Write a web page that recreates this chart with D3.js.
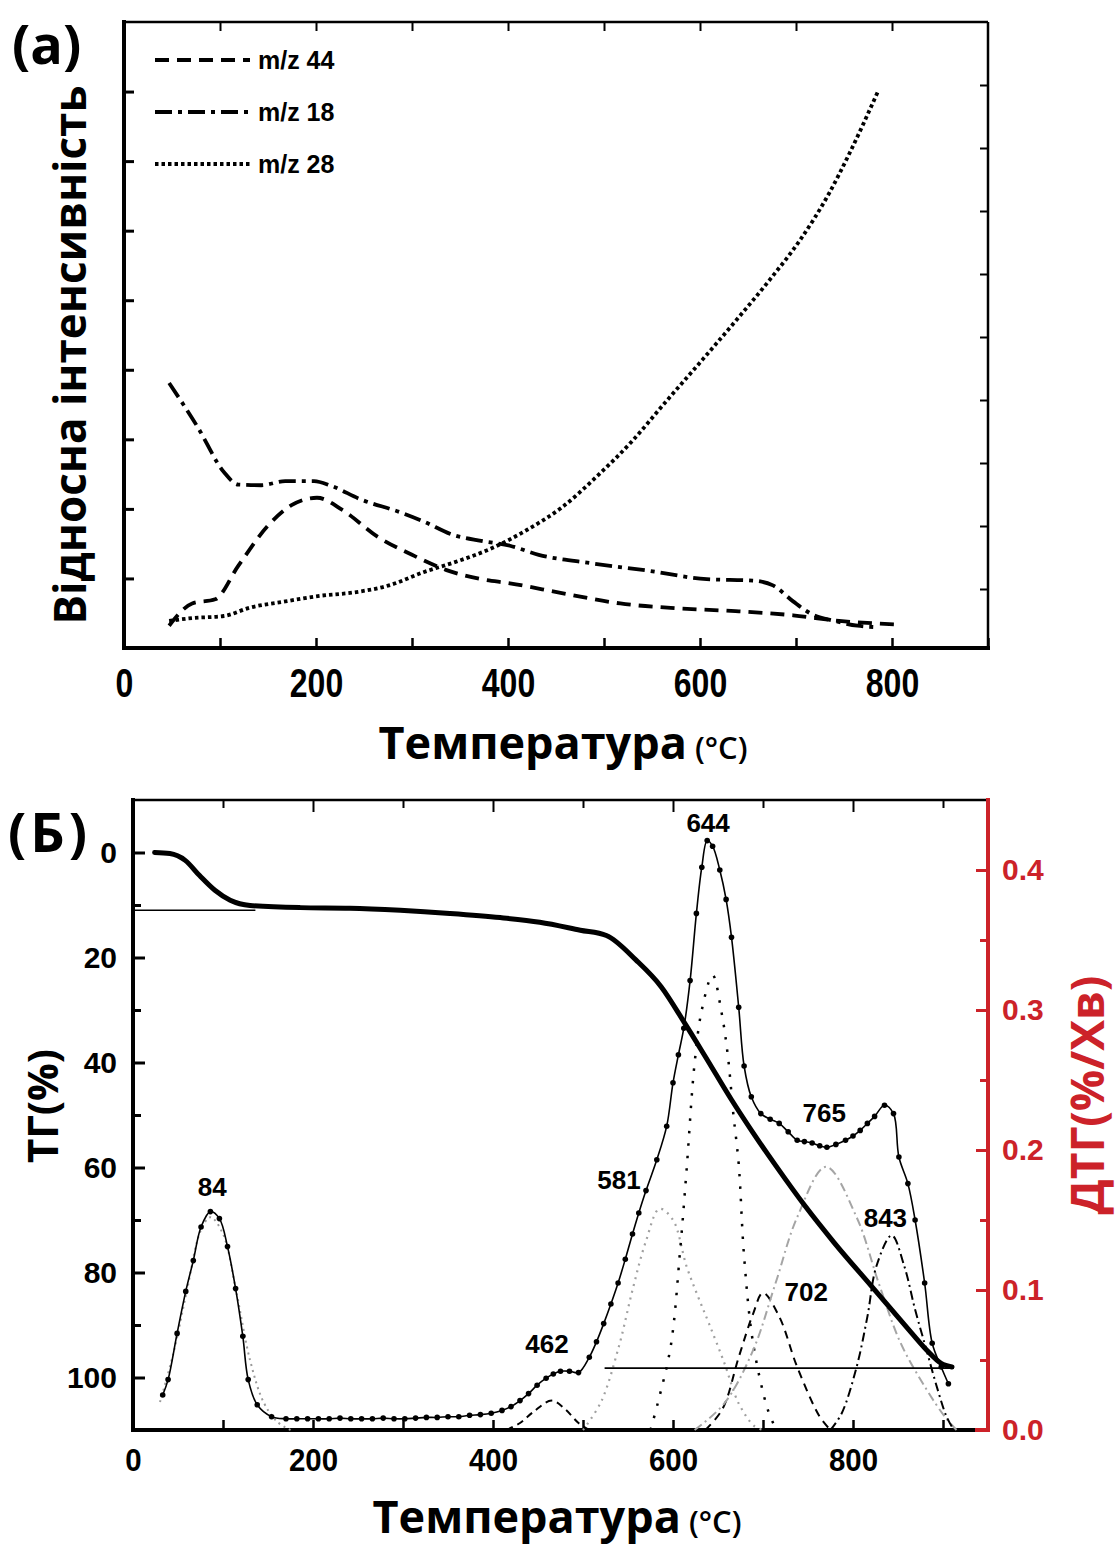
<!DOCTYPE html>
<html>
<head>
<meta charset="utf-8">
<script src="https://cdn.jsdelivr.net/npm/d3@7"></script>
<style>
  body { margin: 0; background: #fff; }
  svg { display: block; }
</style>
</head>
<body>
<svg id="chart" width="1117" height="1546"></svg>
<script>
/* panel (a): mass-spec traces */
const msTemp44 = [47, 71, 95, 119, 150, 174, 201, 228, 264, 300, 336, 372, 402, 456, 517, 577, 637, 697, 745, 803]
const ms44 = [0.32, 0.64, 0.70, 1.18, 1.76, 2.05, 2.16, 1.98, 1.60, 1.34, 1.12, 0.99, 0.93, 0.79, 0.64, 0.57, 0.53, 0.47, 0.39, 0.34]

const msTemp18 = [47, 77, 104, 119, 143, 168, 198, 216, 246, 288, 312, 342, 372, 402, 432, 486, 547, 607, 655, 676, 697, 716, 740, 764, 784]
const ms18 = [3.81, 3.17, 2.53, 2.35, 2.34, 2.40, 2.40, 2.33, 2.14, 1.95, 1.82, 1.63, 1.54, 1.47, 1.34, 1.22, 1.11, 0.99, 0.97, 0.90, 0.67, 0.49, 0.39, 0.32, 0.30]

const msTemp28 = [47, 71, 104, 131, 168, 204, 240, 276, 312, 348, 384, 420, 456, 492, 529, 565, 601, 637, 673, 704, 735, 756, 785]
const ms28 = [0.39, 0.43, 0.46, 0.58, 0.67, 0.75, 0.80, 0.90, 1.09, 1.25, 1.44, 1.70, 2.02, 2.46, 2.97, 3.55, 4.12, 4.70, 5.30, 5.86, 6.55, 7.12, 7.99]

const legendLabels = ["m/z 44", "m/z 18", "m/z 28"]
const xTicksA = [0, 100, 200, 300, 400, 500, 600, 700, 800, 900]

/* panel (Б): TG / DTG */
const tgTemp = [24, 41, 58, 74, 91, 108, 130, 186, 241, 297, 352, 408, 452, 497, 526, 559, 587, 613, 636, 665, 689, 714, 747, 779, 820, 845, 865, 882, 898, 910]
const tgVal = [0, 0.2, 1.5, 4.4, 7.2, 9.1, 10.1, 10.5, 10.6, 11, 11.6, 12.4, 13.3, 14.8, 15.8, 20.5, 25.6, 32.5, 38.9, 47.1, 53.4, 59.6, 67.4, 74.3, 82.5, 87.5, 91.5, 94.8, 97.3, 98]

const dtgTemp = [33, 39, 49, 58.6, 67, 75.6, 86, 96, 105, 114, 122, 128, 138, 154, 170, 182, 194, 206, 218, 230, 242, 254, 266, 278, 290, 302, 314, 326, 338, 350, 362, 374, 386, 398, 410, 420, 430, 439.5, 449, 459, 467, 475, 485, 495, 507, 515, 523, 531, 539, 547, 555, 562, 570, 582, 593, 600, 606, 612, 619, 626, 632, 638, 644, 652, 659, 665, 673, 679, 687, 697.6, 708, 718, 728, 738, 746, 754.6, 763, 771, 781, 791.7, 800, 808, 816, 824, 835, 845, 851, 861, 869, 879.6, 888, 898, 906]
const dtgVal = [0.025, 0.036, 0.069, 0.099, 0.121, 0.145, 0.156, 0.151, 0.131, 0.101, 0.067, 0.036, 0.018, 0.0095, 0.008, 0.008, 0.008, 0.008, 0.008, 0.0085, 0.008, 0.008, 0.008, 0.0085, 0.008, 0.008, 0.0085, 0.009, 0.009, 0.0095, 0.0095, 0.0105, 0.011, 0.012, 0.014, 0.0167, 0.021, 0.026, 0.032, 0.037, 0.040, 0.042, 0.042, 0.041, 0.052, 0.063, 0.076, 0.090, 0.105, 0.122, 0.140, 0.155, 0.171, 0.193, 0.217, 0.248, 0.268, 0.287, 0.321, 0.369, 0.402, 0.421, 0.417, 0.400, 0.379, 0.352, 0.302, 0.260, 0.238, 0.226, 0.222, 0.219, 0.213, 0.207, 0.206, 0.205, 0.203, 0.202, 0.204, 0.207, 0.210, 0.214, 0.219, 0.224, 0.232, 0.226, 0.195, 0.176, 0.150, 0.105, 0.062, 0.045, 0.033]

// fitted components [temperature, dtg]
const fit84 = [[30, 0.02], [45, 0.055], [60, 0.1], [75, 0.142], [86, 0.152], [100, 0.14], [115, 0.098], [130, 0.05], [145, 0.02], [160, 0.006], [175, 0]]
const fit462 = [[415, 0], [430, 0.005], [445, 0.013], [465, 0.021], [480, 0.015], [495, 0.005], [507, 0]]
const fit581 = [[500, 0], [520, 0.02], [540, 0.06], [555, 0.1], [570, 0.135], [585, 0.158], [600, 0.15], [615, 0.117], [628, 0.095], [640, 0.076], [657, 0.048], [673, 0.019], [690, 0.003], [700, 0]]
const fit644 = [[575, 0], [583, 0.019], [597.5, 0.06], [608, 0.129], [615, 0.185], [624, 0.262], [632, 0.30], [644, 0.325], [654, 0.298], [661, 0.267], [667, 0.226], [673, 0.19], [679, 0.124], [689, 0.062], [705.6, 0.014], [715, 0]]
const fit702 = [[636, 0], [655, 0.015], [673, 0.052], [689, 0.083], [700, 0.098], [718, 0.081], [738, 0.045], [763, 0.0095], [775, 0]]
const fit765 = [[624, 0], [657, 0.019], [689, 0.057], [714, 0.105], [738, 0.152], [770, 0.188], [804, 0.152], [828.5, 0.105], [853, 0.062], [881.7, 0.029], [902, 0.0095], [915, 0]]
const fit843 = [[775, 0], [787.5, 0.012], [804, 0.045], [816, 0.081], [826, 0.117], [843, 0.139], [857, 0.117], [869, 0.086], [881.7, 0.057], [894, 0.029], [904, 0.0095], [912, 0]]

const peakLabels = ["84", "462", "581", "644", "702", "765", "843"]
const peakLabelAt = [[88, 0.167], [460, 0.055], [540, 0.172], [639, 0.427], [748, 0.092], [768, 0.22], [836, 0.145]]
const tgTicks = [0, 20, 40, 60, 80, 100]
const dtgTicks = [0, 0.1, 0.2, 0.3, 0.4]
const xTicksB = [0, 100, 200, 300, 400, 500, 600, 700, 800, 900]

const red = "#cc2229"
const svg = d3.select("#chart")
svg.append("rect").attr("width", 1117).attr("height", 1546).attr("fill", "#fff")

const numFont = "'Liberation Sans', Arial, sans-serif"
const titleFont = "'Open Sans', 'Noto Sans', sans-serif"

// ---------- panel (a) ----------
const xA = d3.scaleLinear().domain([0, 900]).range([124, 988])
const yA = d3.scaleLinear().domain([0, 9]).range([648, 22])
const yA2 = d3.scaleLinear().domain([0, 10]).range([652, 22])

const gA = svg.append("g")

function styleAxis(g, col, w) {
    g.select(".domain").remove()
    g.selectAll(".tick line").attr("stroke", col).attr("stroke-width", w)
    g.selectAll(".tick text").attr("fill", col).attr("font-family", numFont).attr("font-weight", "bold")
}

// tick labels of this panel look squeezed sideways
gA.append("g")
    .attr("transform", "translate(0,648)")
    .call(d3.axisBottom(xA).tickValues(xTicksA).tickSize(-10).tickPadding(21)
        .tickFormat(d => (d % 200 === 0 && d < 900) ? d : ""))
    .call(g => styleAxis(g, "#000", 2.5))
    .call(g => g.selectAll(".tick text").attr("font-size", 40).attr("transform", "scale(0.8,1)"))

gA.append("g")
    .attr("transform", "translate(0,22)")
    .call(d3.axisTop(xA).tickValues(xTicksA.slice(1, 9)).tickSize(-9).tickFormat(""))
    .call(g => styleAxis(g, "#000", 2))

gA.append("g")
    .attr("transform", "translate(124,0)")
    .call(d3.axisLeft(yA).tickValues(d3.range(1, 9)).tickSize(-10).tickFormat(""))
    .call(g => styleAxis(g, "#000", 3))

gA.append("g")
    .attr("transform", "translate(988,0)")
    .call(d3.axisRight(yA2).tickValues(d3.range(1, 10)).tickSize(-8).tickFormat(""))
    .call(g => styleAxis(g, "#000", 2))

// frame
gA.append("line").attr("x1", 124).attr("x2", 988).attr("y1", 22).attr("y2", 22).attr("stroke", "#000").attr("stroke-width", 2.5)
gA.append("line").attr("x1", 988).attr("x2", 988).attr("y1", 22).attr("y2", 648).attr("stroke", "#000").attr("stroke-width", 2.5)
gA.append("line").attr("x1", 124).attr("x2", 124).attr("y1", 20).attr("y2", 650).attr("stroke", "#000").attr("stroke-width", 4)
gA.append("line").attr("x1", 122).attr("x2", 990).attr("y1", 648).attr("y2", 648).attr("stroke", "#000").attr("stroke-width", 4)

const dashes = ["14,8", "17,6,4,6", "3.5,3"]
const msSeries = [
    d3.zip(msTemp44, ms44),
    d3.zip(msTemp18, ms18),
    d3.zip(msTemp28, ms28)
]
const lineA = d3.line().x(d => xA(d[0])).y(d => yA(d[1])).curve(d3.curveMonotoneX)

msSeries.forEach((s, i) => {
    gA.append("path")
        .datum(s)
        .attr("d", lineA)
        .attr("fill", "none")
        .attr("stroke", "#000")
        .attr("stroke-width", 3.8)
        .attr("stroke-dasharray", dashes[i])
})

// legend
legendLabels.forEach((lab, i) => {
    const ly = 60 + i * 52
    gA.append("line")
        .attr("x1", 155).attr("x2", 250).attr("y1", ly).attr("y2", ly)
        .attr("stroke", "#000").attr("stroke-width", 3.8)
        .attr("stroke-dasharray", dashes[i])
    gA.append("text")
        .attr("x", 258).attr("y", ly + 9)
        .attr("font-family", numFont).attr("font-weight", "bold").attr("font-size", 25)
        .text(lab)
})

gA.append("text")
    .attr("x", 12).attr("y", 64)
    .attr("font-family", titleFont).attr("font-weight", "bold").attr("font-size", 54)
    .text("(a)")

gA.append("text")
    .attr("transform", "translate(86,355) rotate(-90)")
    .attr("text-anchor", "middle")
    .attr("font-family", titleFont).attr("font-weight", "bold").attr("font-size", 44)
    .text("Відносна інтенсивність")

function tempTitle(g, cx, y) {
    const t = g.append("text")
        .attr("x", cx).attr("y", y)
        .attr("text-anchor", "middle")
        .attr("font-family", titleFont).attr("font-weight", "bold")
    t.append("tspan").attr("font-size", 45).text("Температура")
    t.append("tspan").attr("font-size", 31).attr("font-weight", "600").text(" (°C)")
}
tempTitle(gA, 563, 759)

// ---------- panel (Б) ----------
const xB = d3.scaleLinear().domain([0, 950]).range([133, 988])
const yTG = d3.scaleLinear().domain([-10, 110]).range([800, 1430])
const yDTG = d3.scaleLinear().domain([0, 0.45]).range([1430, 800])

const gB = svg.append("g")

gB.append("g")
    .attr("transform", "translate(0,1430)")
    .call(d3.axisBottom(xB).tickValues(xTicksB).tickSize(-10).tickPadding(18)
        .tickFormat(d => (d % 200 === 0 && d < 900) ? d : ""))
    .call(g => styleAxis(g, "#000", 2.5))
    .call(g => g.selectAll(".tick text").attr("font-size", 32).attr("transform", "scale(0.92,1)"))

gB.append("g")
    .attr("transform", "translate(0,800)")
    .call(d3.axisTop(xB).tickValues(xTicksB.slice(1)).tickSize(-8).tickFormat(""))
    .call(g => styleAxis(g, "#000", 2))
    .call(g => g.selectAll(".tick line").attr("y2", d => d % 200 === 0 ? 12 : 8))

gB.append("g")
    .attr("transform", "translate(133,0)")
    .call(d3.axisLeft(yTG).tickValues(d3.range(0, 110, 10)).tickSize(-12).tickPadding(16)
        .tickFormat(d => tgTicks.includes(d) ? d : ""))
    .call(g => styleAxis(g, "#000", 3))
    .call(g => g.selectAll(".tick line").attr("x2", d => d % 20 === 0 ? 12 : 8))
    .call(g => g.selectAll(".tick text").attr("font-size", 30))

gB.append("g")
    .attr("transform", "translate(988,0)")
    .call(d3.axisRight(yDTG).tickValues(d3.range(0, 0.45, 0.05)).tickSize(-12).tickPadding(14)
        .tickFormat(d => dtgTicks.some(v => Math.abs(v - d) < 1e-9) ? d3.format(".1f")(d) : ""))
    .call(g => styleAxis(g, red, 3))
    .call(g => g.selectAll(".tick line").attr("x2", (d, i) => i % 2 === 0 ? -12 : -8))
    .call(g => g.selectAll(".tick text").attr("font-size", 30))

// frame
gB.append("line").attr("x1", 133).attr("x2", 988).attr("y1", 800).attr("y2", 800).attr("stroke", "#000").attr("stroke-width", 2.5)
gB.append("line").attr("x1", 988).attr("x2", 988).attr("y1", 798).attr("y2", 1432).attr("stroke", red).attr("stroke-width", 4)
gB.append("line").attr("x1", 133).attr("x2", 133).attr("y1", 798).attr("y2", 1432).attr("stroke", "#000").attr("stroke-width", 4)
gB.append("line").attr("x1", 131).attr("x2", 975).attr("y1", 1430).attr("y2", 1430).attr("stroke", "#000").attr("stroke-width", 4)
gB.append("line").attr("x1", 975).attr("x2", 988).attr("y1", 1430).attr("y2", 1430).attr("stroke", red).attr("stroke-width", 4)

const lineDTG = d3.line().x(d => xB(d[0])).y(d => yDTG(d[1])).curve(d3.curveCatmullRom)

// component fits
const fits = [
    { data: fit84, col: "#9a9a9a", dash: "2,4", w: 2 },
    { data: fit462, col: "#000", dash: "7,5", w: 2 },
    { data: fit581, col: "#a0a0a0", dash: "2,5", w: 2.2 },
    { data: fit644, col: "#000", dash: "2.5,10", w: 2.5 },
    { data: fit702, col: "#000", dash: "8,6", w: 2 },
    { data: fit765, col: "#a5a5a5", dash: "9,4,2,4", w: 2 },
    { data: fit843, col: "#000", dash: "9,4,2,4", w: 2 }
]
fits.forEach(f => {
    gB.append("path")
        .datum(f.data)
        .attr("d", lineDTG)
        .attr("fill", "none")
        .attr("stroke", f.col)
        .attr("stroke-width", f.w)
        .attr("stroke-dasharray", f.dash)
})

// baselines
gB.append("line")
    .attr("x1", xB(0)).attr("x2", xB(136)).attr("y1", yTG(11)).attr("y2", yTG(11))
    .attr("stroke", "#000").attr("stroke-width", 1.6)
gB.append("line")
    .attr("x1", xB(524)).attr("x2", xB(912)).attr("y1", yTG(98.2)).attr("y2", yTG(98.2))
    .attr("stroke", "#000").attr("stroke-width", 1.8)

// DTG measured
const dtg = d3.zip(dtgTemp, dtgVal)
gB.append("path")
    .datum(dtg)
    .attr("d", lineDTG)
    .attr("fill", "none")
    .attr("stroke", "#000")
    .attr("stroke-width", 1.6)
gB.append("g")
    .selectAll("circle")
    .data(dtg)
    .join("circle")
    .attr("cx", d => xB(d[0]))
    .attr("cy", d => yDTG(d[1]))
    .attr("r", 2.8)
    .attr("fill", "#000")

// TG
gB.append("path")
    .datum(d3.zip(tgTemp, tgVal))
    .attr("d", d3.line().x(d => xB(d[0])).y(d => yTG(d[1])).curve(d3.curveMonotoneX))
    .attr("fill", "none")
    .attr("stroke", "#000")
    .attr("stroke-width", 5)
    .attr("stroke-linecap", "round")

// peak labels
peakLabels.forEach((lab, i) => {
    gB.append("text")
        .attr("x", xB(peakLabelAt[i][0]))
        .attr("y", yDTG(peakLabelAt[i][1]))
        .attr("text-anchor", "middle")
        .attr("font-family", numFont).attr("font-weight", "bold").attr("font-size", 26)
        .text(lab)
})

gB.append("text")
    .attr("x", 8).attr("y", 852)
    .attr("font-family", titleFont).attr("font-weight", "bold").attr("font-size", 54)
    .attr("letter-spacing", 4)
    .text("(Б)")

gB.append("text")
    .attr("transform", "translate(58,1106) rotate(-90)")
    .attr("text-anchor", "middle")
    .attr("font-family", titleFont).attr("font-weight", "bold").attr("font-size", 42)
    .text("ТГ(%)")

gB.append("text")
    .attr("transform", "translate(1104,1095) rotate(-90)")
    .attr("text-anchor", "middle")
    .attr("fill", red)
    .attr("font-family", titleFont).attr("font-weight", "bold").attr("font-size", 46)
    .text("ДТГ(%/Хв)")

tempTitle(gB, 557, 1533)
</script>
</body>
</html>
